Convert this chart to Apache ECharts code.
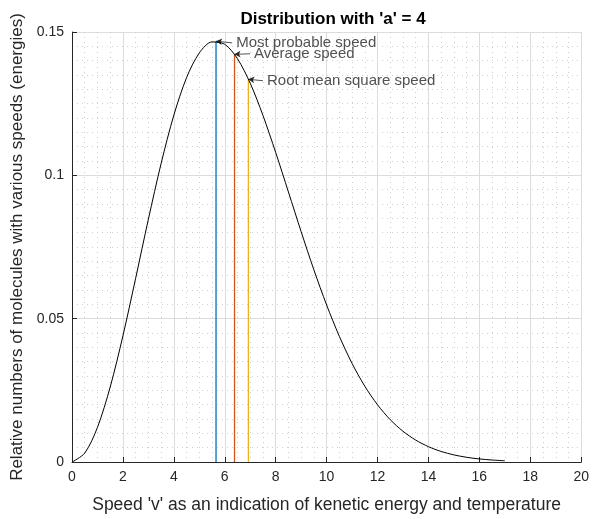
<!DOCTYPE html>
<html>
<head>
<meta charset="utf-8">
<script src="https://cdn.jsdelivr.net/npm/echarts@6/dist/echarts.min.js"></script>
<style>html,body{margin:0;padding:0;background:#fff;}#c{width:592px;height:519px;}</style>
</head>
<body>
<div id="c"></div>
<script>
// Speed values (x) and relative numbers (y)
const speeds = [0,0.5,1,1.5,2,2.5,3,3.5,4,4.5,5,5.5,6,6.5,7,7.5,8,8.5,9,9.5,10,10.5,11,11.5,12,12.5,13,13.5,14,14.5,15,15.5,16,16.5,17];
const density = [0,0.00309,0.01208,0.02615,0.04401,0.06409,0.08470,0.10415,0.12099,0.13408,0.14270,0.14654,0.14571,0.14067,0.13212,0.12091,0.10798,0.09421,0.08034,0.06704,0.05478,0.04385,0.03438,0.02644,0.01994,0.01476,0.01072,0.00764,0.00535,0.00367,0.00248,0.00164,0.00107,0.00069,0.00043];

// Characteristic speeds: position and curve height
const markNames = ['Most probable speed','Average speed','Root mean square speed'];
const markSpeeds = [5.657, 6.383, 6.928];
const markHeights = [0.1468, 0.1422, 0.1335];
const markColors = ['#0072BD','#D95319','#EDB120'];
// Annotation text anchor (data coords)
const labelSpeeds = [6.29, 6.99, 7.50];
const labelHeights = [0.1462, 0.1424, 0.1330];

const xTicks = [0,2,4,6,8,10,12,14,16,18,20];
const yTicks = [0,0.05,0.1,0.15];

const font = 'Liberation Sans, Arial, Helvetica, sans-serif';
const chart = echarts.init(document.getElementById('c'));

const series = [{
  type:'line', data: speeds.map((v,i)=>[v,density[i]]), smooth:0.3, showSymbol:false,
  lineStyle:{color:'#000', width:1}, z:5
}];
markSpeeds.forEach((v,i)=>{
  series.push({
    type:'line', data:[[v,0],[v,markHeights[i]]], showSymbol:false,
    lineStyle:{color:markColors[i], width:1.3}, z:4
  });
  series.push({
    type:'scatter', data:[[labelSpeeds[i], labelHeights[i]]], symbolSize:0, z:6,
    label:{show:true, position:'right', distance:4, formatter:markNames[i], color:'#262626', fontFamily:font, fontSize:15},
    markLine:{
      silent:true, symbol:['none','arrow'], symbolSize:[5,6],
      lineStyle:{color:'#262626', width:0.8, type:'solid'},
      label:{show:false},
      data:[[{coord:[labelSpeeds[i], labelHeights[i]]},{coord:[markSpeeds[i], markHeights[i]]}]]
    }
  });
});

chart.setOption({
  animation:false,
  backgroundColor:'#fff',
  title:{text:"Distribution with 'a' = 4", left:328, top:6, textAlign:'center',
    textStyle:{fontFamily:font, fontSize:17, fontWeight:'bold', color:'#000'}},
  grid:{left:72, right:8, top:32, bottom:55},
  xAxis:{type:'value', min:xTicks[0], max:xTicks[xTicks.length-1], interval:2,
    name:"Speed 'v' as an indication of kenetic energy and temperature",
    nameLocation:'middle', nameGap:34,
    nameTextStyle:{fontFamily:font, fontSize:17.5, color:'#262626'},
    axisLine:{lineStyle:{color:'#262626', width:1}},
    axisTick:{inside:true, length:5, lineStyle:{color:'#262626'}},
    axisLabel:{fontFamily:font, fontSize:14, color:'#262626', margin:8},
    splitLine:{show:true, lineStyle:{color:'#dcdcdc', width:1}},
    minorTick:{show:false, splitNumber:4},
    minorSplitLine:{show:true, lineStyle:{color:'#cfcfcf', type:[1,4], width:1}}
  },
  yAxis:{type:'value', min:yTicks[0], max:yTicks[yTicks.length-1], interval:0.05,
    name:'Relative numbers of molecules with various speeds (energies)',
    nameLocation:'middle', nameGap:46,
    nameTextStyle:{fontFamily:font, fontSize:17, color:'#262626'},
    axisLine:{show:true, lineStyle:{color:'#262626', width:1}},
    axisTick:{show:true, inside:true, length:5, lineStyle:{color:'#262626'}},
    axisLabel:{fontFamily:font, fontSize:14, color:'#262626', margin:8},
    splitLine:{show:true, lineStyle:{color:'#dcdcdc', width:1}},
    minorTick:{show:false, splitNumber:10},
    minorSplitLine:{show:true, lineStyle:{color:'#cfcfcf', type:[1,4], width:1}}
  },
  series: series
});
</script>
</body>
</html>
